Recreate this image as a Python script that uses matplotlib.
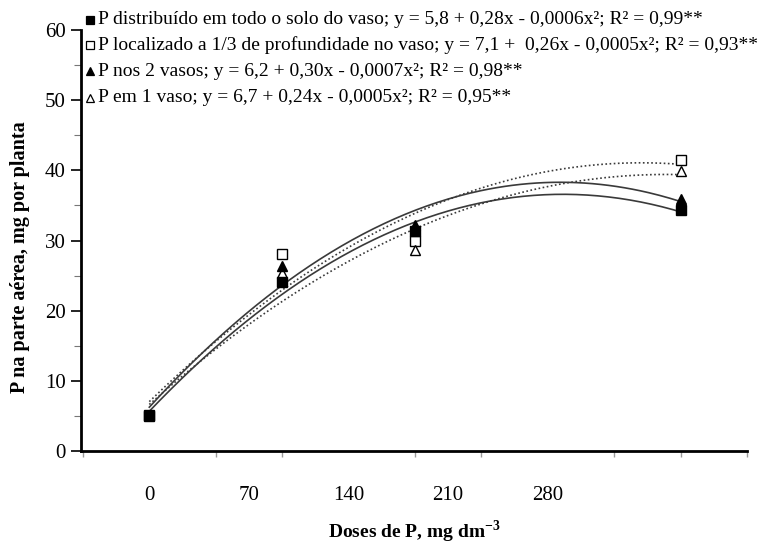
import numpy as np
import matplotlib
matplotlib.use("Agg")
import matplotlib.pyplot as plt
from matplotlib.ticker import MultipleLocator

# Doses de P (mg dm-3) e P na parte aerea (mg por planta)
doses = [0, 70, 140, 280]
p_todo_solo = [5.0, 24.1, 31.3, 34.3]
p_localizado = [5.1, 28.1, 30.0, 41.5]
p_2_vasos = [5.2, 26.4, 32.2, 35.9]
p_1_vaso = [5.1, 25.4, 28.6, 39.9]

rotulos = [
    "P distribuído em todo o solo do vaso; y = 5,8 + 0,28x - 0,0006x²; R² = 0,99**",
    "P localizado a 1/3 de profundidade no vaso; y = 7,1 +  0,26x - 0,0005x²; R² = 0,93**",
    "P nos 2 vasos; y = 6,2 + 0,30x - 0,0007x²; R² = 0,98**",
    "P em 1 vaso; y = 6,7 + 0,24x - 0,0005x²; R² = 0,95**",
]
# rotulos do eixo x como aparecem na figura original
xtick_pos = [0, 52.5, 105, 157.5, 210]
xtick_lab = ["0", "70", "140", "210", "280"]

plt.rcParams['font.family'] = ['Liberation Serif', 'DejaVu Serif']
plt.rcParams['mathtext.fontset'] = 'custom'
plt.rcParams['mathtext.bf'] = 'Liberation Serif:bold'
plt.rcParams['mathtext.rm'] = 'Liberation Serif'

fig = plt.figure(figsize=(7.59, 5.49), dpi=100)
ax = fig.add_axes([81/759, 1-451/549, (747-81)/759, (451-30)/549])

series = [
    (p_localizado, 's', 'white', (0, (1, 1.5))),
    (p_1_vaso, '^', 'white', (0, (1, 1.5))),
    (p_2_vasos, '^', 'black', '-'),
    (p_todo_solo, 's', 'black', '-'),
]
xx = np.linspace(0, 280, 200)
for vals, mk, fc, ls in series:
    # linha de tendencia polinomial (como no Excel)
    c = np.polyfit(doses, vals, 2)
    ax.plot(xx, np.polyval(c, xx), color='#3a3a3a', lw=1.2, ls=ls, zorder=2)
for vals, mk, fc, ls in series:
    ax.plot(doses, vals, ls='none', marker=mk, ms=7 if mk == 's' else 7.5,
            mfc=fc, mec='black', mew=1.0, zorder=3)

ax.set_xlim(-36, 315)
ax.set_ylim(0, 60)

for s in ['top', 'right']:
    ax.spines[s].set_visible(False)
for s in ['left', 'bottom']:
    ax.spines[s].set_linewidth(2.0)

ax.yaxis.set_major_locator(MultipleLocator(10))
ax.yaxis.set_minor_locator(MultipleLocator(5))
ax.tick_params(axis='y', which='major', direction='out', length=7, width=1.2,
               labelsize=15, pad=4)
ax.tick_params(axis='y', which='minor', direction='out', length=5, width=0.8,
               color='#777777')

ax.set_xticks(xtick_pos)
ax.set_xticklabels(xtick_lab)
ax.xaxis.set_minor_locator(MultipleLocator(35))
ax.tick_params(axis='x', which='major', length=0, labelsize=15, pad=25)
ax.tick_params(axis='x', which='minor', direction='out', length=4, width=1.0,
               color='#999999')

ax.set_ylabel("P na parte aérea, mg por planta", fontsize=14.5, fontweight='bold')
ax.yaxis.set_label_coords(-0.077, 0.46)
ax.set_xlabel("Doses de P, mg dm$^{\\mathbf{-3}}$", fontsize=14, fontweight='bold')
ax.xaxis.set_label_coords(0.5, -0.16)

# legenda manual
marcas = [('s', 'black'), ('s', 'white'), ('^', 'black'), ('^', 'white')]
ys = [20, 45, 71, 98]
for (mk, fc), lab, yp in zip(marcas, rotulos, ys):
    fy = 1 - yp/549
    fig.lines.append(matplotlib.lines.Line2D([90/759], [fy], marker=mk, ms=6,
                                             mfc=fc, mec='black', mew=0.9,
                                             transform=fig.transFigure))
    fig.text(98/759, fy, lab, fontsize=14, va='center', ha='left')

fig.savefig("out.png", dpi=100, facecolor='white')
